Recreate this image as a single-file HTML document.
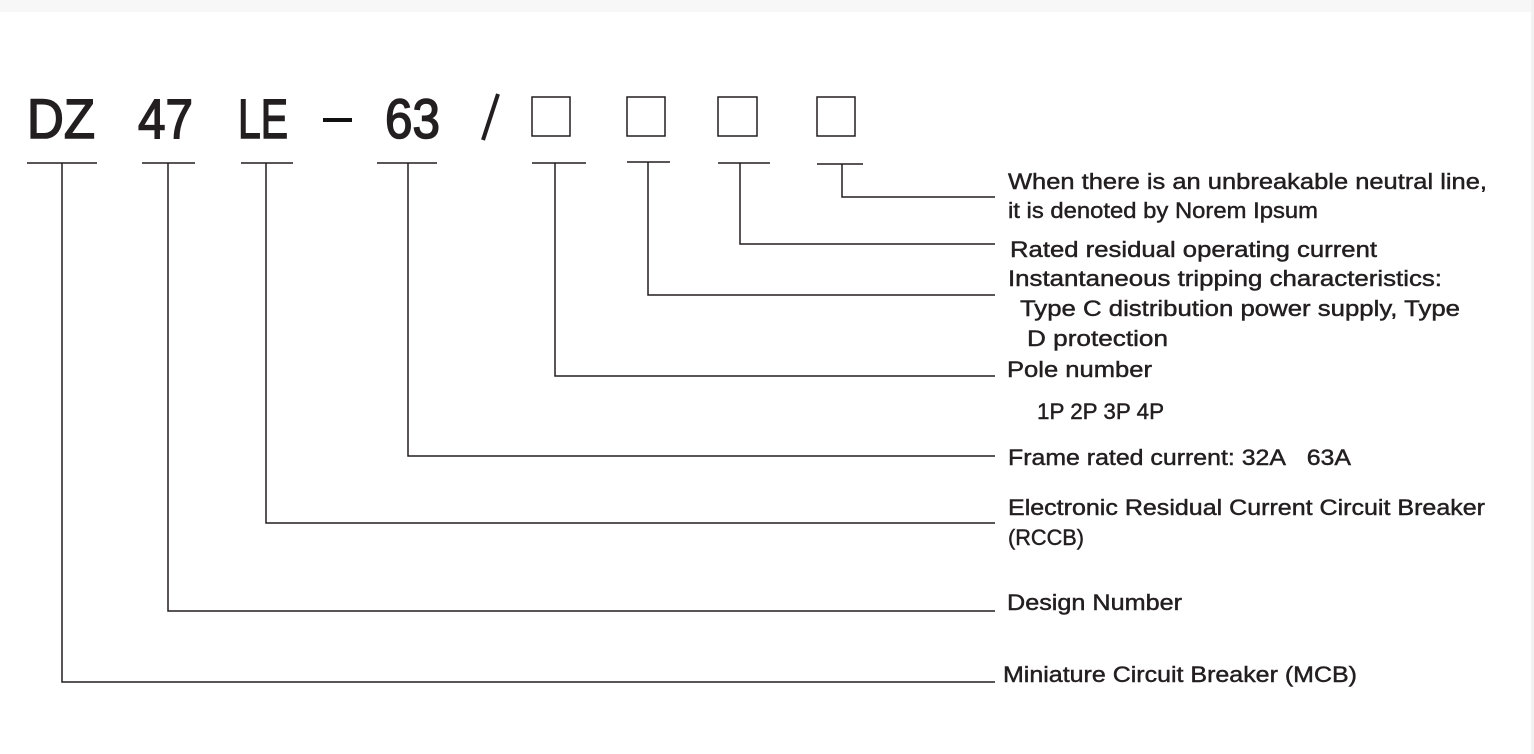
<!DOCTYPE html>
<html><head><meta charset="utf-8"><style>
html,body{margin:0;padding:0;background:#fff;}
svg{display:block;}
text{font-family:"Liberation Sans",sans-serif;fill:#231f20;}
.l{font-size:22px;stroke:#231f20;stroke-width:0.45;}
</style></head><body>
<svg width="1534" height="754" viewBox="0 0 1534 754">
<rect x="0" y="0" width="1534" height="12" fill="#f7f7f7"/>
<rect x="1531" y="0" width="3" height="754" fill="#f2f2f2"/>
<g font-size="56" style="stroke:#231f20;stroke-width:1.6">
<text x="27" y="138" textLength="68" lengthAdjust="spacingAndGlyphs">DZ</text>
<text x="138" y="138" textLength="55" lengthAdjust="spacingAndGlyphs">47</text>
<text x="238" y="138" textLength="50" lengthAdjust="spacingAndGlyphs">LE</text>
<text x="385" y="138" textLength="55" lengthAdjust="spacingAndGlyphs">63</text>
</g>
<rect x="323" y="118" width="29" height="4" fill="#111"/>
<line x1="498" y1="94" x2="483" y2="140" stroke="#231f20" stroke-width="4"/>
<g fill="none" stroke="#231f20" stroke-width="1.5">
<rect x="532" y="97" width="38" height="39"/>
<rect x="627" y="97" width="38" height="39"/>
<rect x="718" y="97" width="39" height="39"/>
<rect x="817" y="97" width="38" height="39"/>
</g>
<g stroke="#231f20" stroke-width="1.5" fill="none">
<line x1="27" y1="163" x2="97" y2="163"/>
<line x1="142" y1="163" x2="195" y2="163"/>
<line x1="241" y1="163" x2="293" y2="163"/>
<line x1="377" y1="163" x2="437" y2="163"/>
<line x1="532" y1="163" x2="586" y2="163"/>
<line x1="627" y1="162" x2="670" y2="162"/>
<line x1="718" y1="163" x2="770" y2="163"/>
<line x1="817" y1="164" x2="863" y2="164"/>
<polyline points="842,164 842,197 995,197"/>
<polyline points="740,163 740,244 995,244"/>
<polyline points="648,162 648,295 995,295"/>
<polyline points="555,163 555,376 995,376"/>
<polyline points="408,163 408,456 995,456"/>
<polyline points="266,163 266,523 995,523"/>
<polyline points="168,163 168,611 995,611"/>
<polyline points="62,163 62,682 995,682"/>
</g>
<g class="l">
<text x="1008" y="189" textLength="479" lengthAdjust="spacingAndGlyphs">When there is an unbreakable neutral line,</text>
<text x="1008" y="218" textLength="310" lengthAdjust="spacingAndGlyphs">it is denoted by Norem Ipsum</text>
<text x="1010" y="257" textLength="367" lengthAdjust="spacingAndGlyphs">Rated residual operating current</text>
<text x="1008" y="286" textLength="434" lengthAdjust="spacingAndGlyphs">Instantaneous tripping characteristics:</text>
<text x="1020" y="316" textLength="440" lengthAdjust="spacingAndGlyphs">Type C distribution power supply, Type</text>
<text x="1027" y="346" textLength="141" lengthAdjust="spacingAndGlyphs">D protection</text>
<text x="1007" y="377" textLength="145" lengthAdjust="spacingAndGlyphs">Pole number</text>
<text x="1037" y="419" textLength="127" lengthAdjust="spacingAndGlyphs">1P 2P 3P 4P</text>
<text x="1008" y="465" textLength="343" lengthAdjust="spacingAndGlyphs">Frame rated current: 32A&#160;&#160;&#160;63A</text>
<text x="1008" y="515" textLength="477" lengthAdjust="spacingAndGlyphs">Electronic Residual Current Circuit Breaker</text>
<text x="1008" y="545" textLength="76" lengthAdjust="spacingAndGlyphs">(RCCB)</text>
<text x="1007" y="610" textLength="175" lengthAdjust="spacingAndGlyphs">Design Number</text>
<text x="1003" y="682" textLength="354" lengthAdjust="spacingAndGlyphs">Miniature Circuit Breaker (MCB)</text>
</g>
</svg>
</body></html>
